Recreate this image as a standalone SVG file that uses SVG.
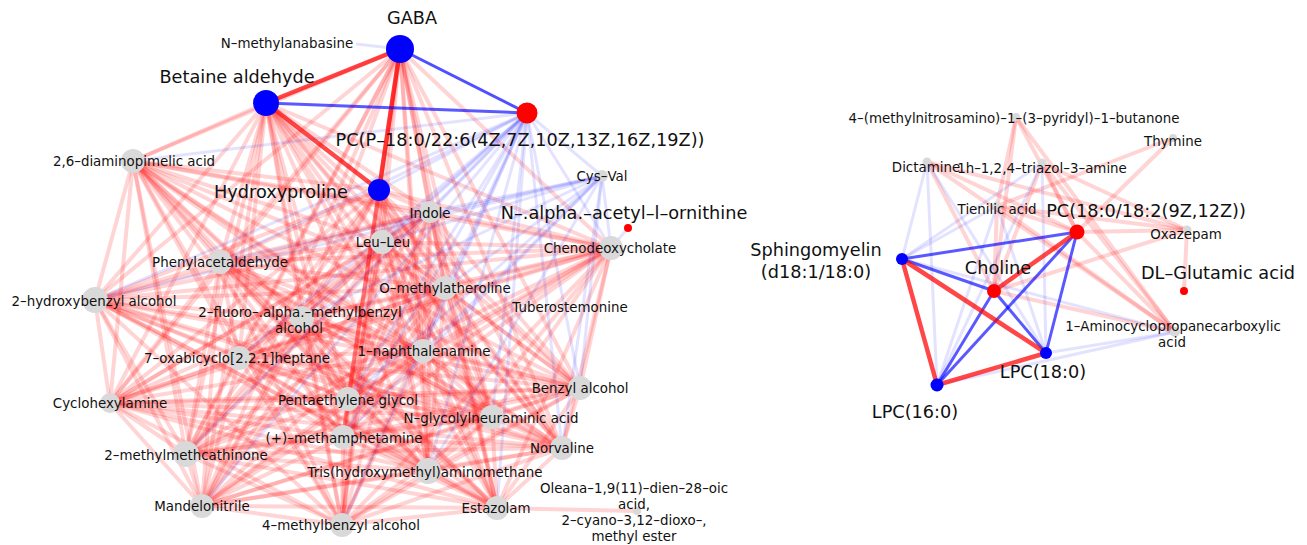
<svg xmlns="http://www.w3.org/2000/svg" width="1307" height="545" viewBox="0 0 1307 545">
<style>
.r{fill:none;stroke:#ff0000;stroke-opacity:.17;stroke-width:4}
.b{fill:none;stroke:#0000ff;stroke-opacity:.11;stroke-width:3}
.R{fill:none;stroke:#ff0000;stroke-opacity:.72;stroke-width:4.5}
.B{fill:none;stroke:#0000ff;stroke-opacity:.65;stroke-width:3}
.ng{fill:#d9d9d9}
.nb{fill:#0000ff}
.nr{fill:#ff0000}
text{font-family:"DejaVu Sans",sans-serif;fill:#111;text-anchor:middle}
.s{font-size:13.4px}
.L{font-size:17.7px}
</style>
<rect width="1307" height="545" fill="#fff"/>
<g id="connectors">
<path class="r" d="M133 161 430 212"/><path class="r" d="M133 161 382 242"/><path class="r" d="M133 161 220 262"/><path class="r" d="M133 161 445 288"/><path class="r" d="M133 161 95 300"/><path class="r" d="M133 161 302 318"/><path class="r" d="M133 161 239 358"/><path class="r" d="M133 161 423 351"/><path class="r" d="M133 161 580 388"/><path class="r" d="M133 161 110 403"/><path class="r" d="M133 161 348 399"/><path class="r" d="M133 161 492 417"/><path class="r" d="M133 161 343 437"/><path class="r" d="M133 161 562 448"/><path class="r" d="M133 161 186 454"/><path class="r" d="M133 161 428 471"/><path class="r" d="M133 161 497 508"/><path class="r" d="M133 161 202 506"/><path class="r" d="M133 161 342 525"/><path class="r" d="M133 161 611 248"/>
<path class="r" d="M430 212 382 242"/><path class="r" d="M430 212 220 262"/><path class="r" d="M430 212 445 288"/><path class="r" d="M430 212 95 300"/><path class="r" d="M430 212 302 318"/><path class="r" d="M430 212 239 358"/><path class="r" d="M430 212 423 351"/><path class="r" d="M430 212 580 388"/><path class="r" d="M430 212 110 403"/><path class="r" d="M430 212 348 399"/><path class="r" d="M430 212 492 417"/><path class="r" d="M430 212 343 437"/><path class="r" d="M430 212 562 448"/><path class="r" d="M430 212 186 454"/><path class="r" d="M430 212 428 471"/><path class="r" d="M430 212 497 508"/><path class="r" d="M430 212 202 506"/><path class="r" d="M430 212 342 525"/><path class="r" d="M430 212 611 248"/>
<path class="r" d="M382 242 220 262"/><path class="r" d="M382 242 445 288"/><path class="r" d="M382 242 95 300"/><path class="r" d="M382 242 302 318"/><path class="r" d="M382 242 239 358"/><path class="r" d="M382 242 423 351"/><path class="r" d="M382 242 580 388"/><path class="r" d="M382 242 110 403"/><path class="r" d="M382 242 348 399"/><path class="r" d="M382 242 492 417"/><path class="r" d="M382 242 343 437"/><path class="r" d="M382 242 562 448"/><path class="r" d="M382 242 186 454"/><path class="r" d="M382 242 428 471"/><path class="r" d="M382 242 497 508"/><path class="r" d="M382 242 202 506"/><path class="r" d="M382 242 342 525"/><path class="r" d="M382 242 611 248"/>
<path class="r" d="M220 262 445 288"/><path class="r" d="M220 262 95 300"/><path class="r" d="M220 262 302 318"/><path class="r" d="M220 262 239 358"/><path class="r" d="M220 262 423 351"/><path class="r" d="M220 262 580 388"/><path class="r" d="M220 262 110 403"/><path class="r" d="M220 262 348 399"/><path class="r" d="M220 262 492 417"/><path class="r" d="M220 262 343 437"/><path class="r" d="M220 262 562 448"/><path class="r" d="M220 262 186 454"/><path class="r" d="M220 262 428 471"/><path class="r" d="M220 262 497 508"/><path class="r" d="M220 262 202 506"/><path class="r" d="M220 262 342 525"/><path class="r" d="M220 262 611 248"/>
<path class="r" d="M445 288 95 300"/><path class="r" d="M445 288 302 318"/><path class="r" d="M445 288 239 358"/><path class="r" d="M445 288 423 351"/><path class="r" d="M445 288 580 388"/><path class="r" d="M445 288 110 403"/><path class="r" d="M445 288 348 399"/><path class="r" d="M445 288 492 417"/><path class="r" d="M445 288 343 437"/><path class="r" d="M445 288 562 448"/><path class="r" d="M445 288 186 454"/><path class="r" d="M445 288 428 471"/><path class="r" d="M445 288 497 508"/><path class="r" d="M445 288 202 506"/><path class="r" d="M445 288 342 525"/><path class="r" d="M445 288 611 248"/>
<path class="r" d="M95 300 302 318"/><path class="r" d="M95 300 239 358"/><path class="r" d="M95 300 423 351"/><path class="r" d="M95 300 580 388"/><path class="r" d="M95 300 110 403"/><path class="r" d="M95 300 348 399"/><path class="r" d="M95 300 492 417"/><path class="r" d="M95 300 343 437"/><path class="r" d="M95 300 562 448"/><path class="r" d="M95 300 186 454"/><path class="r" d="M95 300 428 471"/><path class="r" d="M95 300 497 508"/><path class="r" d="M95 300 202 506"/><path class="r" d="M95 300 342 525"/><path class="r" d="M95 300 611 248"/>
<path class="r" d="M302 318 239 358"/><path class="r" d="M302 318 423 351"/><path class="r" d="M302 318 580 388"/><path class="r" d="M302 318 110 403"/><path class="r" d="M302 318 348 399"/><path class="r" d="M302 318 492 417"/><path class="r" d="M302 318 343 437"/><path class="r" d="M302 318 562 448"/><path class="r" d="M302 318 186 454"/><path class="r" d="M302 318 428 471"/><path class="r" d="M302 318 497 508"/><path class="r" d="M302 318 202 506"/><path class="r" d="M302 318 342 525"/><path class="r" d="M302 318 611 248"/>
<path class="r" d="M239 358 423 351"/><path class="r" d="M239 358 580 388"/><path class="r" d="M239 358 110 403"/><path class="r" d="M239 358 348 399"/><path class="r" d="M239 358 492 417"/><path class="r" d="M239 358 343 437"/><path class="r" d="M239 358 562 448"/><path class="r" d="M239 358 186 454"/><path class="r" d="M239 358 428 471"/><path class="r" d="M239 358 497 508"/><path class="r" d="M239 358 202 506"/><path class="r" d="M239 358 342 525"/><path class="r" d="M239 358 611 248"/>
<path class="r" d="M423 351 580 388"/><path class="r" d="M423 351 110 403"/><path class="r" d="M423 351 348 399"/><path class="r" d="M423 351 492 417"/><path class="r" d="M423 351 343 437"/><path class="r" d="M423 351 562 448"/><path class="r" d="M423 351 186 454"/><path class="r" d="M423 351 428 471"/><path class="r" d="M423 351 497 508"/><path class="r" d="M423 351 202 506"/><path class="r" d="M423 351 342 525"/><path class="r" d="M423 351 611 248"/>
<path class="r" d="M580 388 110 403"/><path class="r" d="M580 388 348 399"/><path class="r" d="M580 388 492 417"/><path class="r" d="M580 388 343 437"/><path class="r" d="M580 388 562 448"/><path class="r" d="M580 388 186 454"/><path class="r" d="M580 388 428 471"/><path class="r" d="M580 388 497 508"/><path class="r" d="M580 388 202 506"/><path class="r" d="M580 388 342 525"/><path class="r" d="M580 388 611 248"/>
<path class="r" d="M110 403 348 399"/><path class="r" d="M110 403 492 417"/><path class="r" d="M110 403 343 437"/><path class="r" d="M110 403 562 448"/><path class="r" d="M110 403 186 454"/><path class="r" d="M110 403 428 471"/><path class="r" d="M110 403 497 508"/><path class="r" d="M110 403 202 506"/><path class="r" d="M110 403 342 525"/><path class="r" d="M110 403 611 248"/>
<path class="r" d="M348 399 492 417"/><path class="r" d="M348 399 343 437"/><path class="r" d="M348 399 562 448"/><path class="r" d="M348 399 186 454"/><path class="r" d="M348 399 428 471"/><path class="r" d="M348 399 497 508"/><path class="r" d="M348 399 202 506"/><path class="r" d="M348 399 342 525"/><path class="r" d="M348 399 611 248"/>
<path class="r" d="M492 417 343 437"/><path class="r" d="M492 417 562 448"/><path class="r" d="M492 417 186 454"/><path class="r" d="M492 417 428 471"/><path class="r" d="M492 417 497 508"/><path class="r" d="M492 417 202 506"/><path class="r" d="M492 417 342 525"/><path class="r" d="M492 417 611 248"/>
<path class="r" d="M343 437 562 448"/><path class="r" d="M343 437 186 454"/><path class="r" d="M343 437 428 471"/><path class="r" d="M343 437 497 508"/><path class="r" d="M343 437 202 506"/><path class="r" d="M343 437 342 525"/><path class="r" d="M343 437 611 248"/>
<path class="r" d="M562 448 186 454"/><path class="r" d="M562 448 428 471"/><path class="r" d="M562 448 497 508"/><path class="r" d="M562 448 202 506"/><path class="r" d="M562 448 342 525"/><path class="r" d="M562 448 611 248"/>
<path class="r" d="M186 454 428 471"/><path class="r" d="M186 454 497 508"/><path class="r" d="M186 454 202 506"/><path class="r" d="M186 454 342 525"/><path class="r" d="M186 454 611 248"/>
<path class="r" d="M428 471 497 508"/><path class="r" d="M428 471 202 506"/><path class="r" d="M428 471 342 525"/><path class="r" d="M428 471 611 248"/>
<path class="r" d="M497 508 202 506"/><path class="r" d="M497 508 342 525"/><path class="r" d="M497 508 611 248"/>
<path class="r" d="M202 506 342 525"/><path class="r" d="M202 506 611 248"/><path class="r" d="M342 525 611 248"/>
<path class="r" d="M497 508 637 511"/>
<path class="r" d="M266 103 133 161"/><path class="r" d="M266 103 430 212"/><path class="r" d="M266 103 382 242"/><path class="r" d="M266 103 220 262"/><path class="r" d="M266 103 445 288"/><path class="r" d="M266 103 95 300"/><path class="r" d="M266 103 302 318"/><path class="r" d="M266 103 239 358"/><path class="r" d="M266 103 423 351"/><path class="r" d="M266 103 580 388"/><path class="r" d="M266 103 110 403"/><path class="r" d="M266 103 348 399"/><path class="r" d="M266 103 492 417"/><path class="r" d="M266 103 343 437"/><path class="r" d="M266 103 562 448"/><path class="r" d="M266 103 186 454"/><path class="r" d="M266 103 428 471"/><path class="r" d="M266 103 497 508"/><path class="r" d="M266 103 202 506"/><path class="r" d="M266 103 342 525"/><path class="r" d="M266 103 611 248"/>
<path class="r" d="M400 49 133 161"/><path class="r" d="M400 49 430 212"/><path class="r" d="M400 49 382 242"/><path class="r" d="M400 49 220 262"/><path class="r" d="M400 49 445 288"/><path class="r" d="M400 49 95 300"/><path class="r" d="M400 49 302 318"/><path class="r" d="M400 49 239 358"/><path class="r" d="M400 49 423 351"/><path class="r" d="M400 49 580 388"/><path class="r" d="M400 49 110 403"/><path class="r" d="M400 49 348 399"/><path class="r" d="M400 49 492 417"/><path class="r" d="M400 49 343 437"/><path class="r" d="M400 49 562 448"/><path class="r" d="M400 49 186 454"/><path class="r" d="M400 49 428 471"/><path class="r" d="M400 49 497 508"/><path class="r" d="M400 49 202 506"/><path class="r" d="M400 49 342 525"/><path class="r" d="M400 49 611 248"/>
<path class="r" d="M379 190 133 161"/><path class="r" d="M379 190 430 212"/><path class="r" d="M379 190 382 242"/><path class="r" d="M379 190 220 262"/><path class="r" d="M379 190 445 288"/><path class="r" d="M379 190 95 300"/><path class="r" d="M379 190 302 318"/><path class="r" d="M379 190 239 358"/><path class="r" d="M379 190 423 351"/><path class="r" d="M379 190 580 388"/><path class="r" d="M379 190 110 403"/><path class="r" d="M379 190 348 399"/><path class="r" d="M379 190 492 417"/><path class="r" d="M379 190 343 437"/><path class="r" d="M379 190 562 448"/><path class="r" d="M379 190 186 454"/><path class="r" d="M379 190 428 471"/><path class="r" d="M379 190 497 508"/><path class="r" d="M379 190 202 506"/><path class="r" d="M379 190 342 525"/><path class="r" d="M379 190 611 248"/>
<path class="b" d="M527 113 430 212"/><path class="b" d="M527 113 382 242"/><path class="b" d="M527 113 602 176"/><path class="b" d="M527 113 611 248"/><path class="b" d="M527 113 580 388"/><path class="b" d="M527 113 562 448"/><path class="b" d="M527 113 428 471"/><path class="b" d="M527 113 186 454"/><path class="b" d="M527 113 202 506"/><path class="b" d="M527 113 220 262"/><path class="b" d="M527 113 95 300"/><path class="b" d="M527 113 445 288"/><path class="b" d="M527 113 423 351"/><path class="b" d="M527 113 492 417"/><path class="b" d="M527 113 343 437"/><path class="b" d="M527 113 302 318"/><path class="b" d="M527 113 239 358"/><path class="b" d="M527 113 348 399"/><path class="b" d="M527 113 133 161"/><path class="b" d="M527 113 497 508"/><path class="b" d="M527 113 342 525"/><path class="b" d="M527 113 379 190"/><path class="b" d="M527 113 400 49"/>
<path class="b" d="M602 176 430 212"/><path class="b" d="M602 176 382 242"/><path class="b" d="M602 176 220 262"/><path class="b" d="M602 176 95 300"/><path class="b" d="M602 176 445 288"/><path class="b" d="M602 176 423 351"/><path class="b" d="M602 176 611 248"/><path class="b" d="M602 176 302 318"/><path class="b" d="M602 176 580 388"/><path class="b" d="M602 176 562 448"/><path class="b" d="M602 176 428 471"/><path class="b" d="M602 176 343 437"/><path class="b" d="M602 176 348 399"/>
<path class="b" d="M628 228 611 248"/><path class="b" d="M356 44 400 49"/>
<path class="R" d="M400 49 266 103"/><path class="R" d="M400 49 379 190"/><path class="R" d="M266 103 379 190"/>
<path class="B" d="M400 49 527 113"/><path class="B" d="M266 103 527 113"/>
<path class="r" d="M1016 117 997 206"/><path class="r" d="M1016 117 1077 232"/><path class="r" d="M1016 117 1175 332"/><path class="r" d="M1016 117 994 291"/>
<path class="r" d="M1173 138 997 206"/><path class="r" d="M1173 138 1077 232"/>
<path class="r" d="M927 162 994 291"/><path class="r" d="M927 162 1077 232"/><path class="r" d="M927 162 1187 230"/><path class="r" d="M927 162 1175 332"/>
<path class="b" d="M927 162 902 259"/><path class="b" d="M927 162 937 385"/><path class="b" d="M927 162 1046 353"/>
<path class="r" d="M1042 163 994 291"/><path class="r" d="M1042 163 1077 232"/><path class="r" d="M1042 163 1187 230"/><path class="r" d="M1042 163 1175 332"/>
<path class="b" d="M1042 163 902 259"/><path class="b" d="M1042 163 937 385"/><path class="b" d="M1042 163 1046 353"/>
<path class="r" d="M997 206 994 291"/><path class="r" d="M997 206 1077 232"/><path class="r" d="M997 206 1187 230"/><path class="r" d="M997 206 1175 332"/>
<path class="b" d="M997 206 902 259"/><path class="b" d="M997 206 937 385"/><path class="b" d="M997 206 1046 353"/>
<path class="r" d="M1187 230 1184 291"/><path class="r" d="M1187 230 994 291"/><path class="r" d="M1187 230 1077 232"/>
<path class="b" d="M1175 332 1046 353"/><path class="b" d="M1175 332 937 385"/><path class="b" d="M1175 332 902 259"/>
<path class="r" d="M1175 332 994 291"/><path class="r" d="M1175 332 1077 232"/>
<path class="B" d="M902 259 1077 232"/><path class="B" d="M902 259 994 291"/><path class="B" d="M994 291 937 385"/><path class="B" d="M994 291 1046 353"/><path class="B" d="M1077 232 937 385"/><path class="B" d="M1077 232 1046 353"/>
<path class="R" d="M902 259 937 385"/><path class="R" d="M902 259 1046 353"/><path class="R" d="M994 291 1077 232"/><path class="R" d="M937 385 1046 353"/>
</g>
<g id="n-nmethylanabasine"><text class="s" x="287" y="48">N–methylanabasine</text></g>
<g id="n-gaba"><circle class="nb" cx="400" cy="49" r="14"/><text class="L" x="412" y="24">GABA</text></g>
<g id="n-betaine"><circle class="nb" cx="266" cy="103" r="13"/><text class="L" x="237" y="83">Betaine aldehyde</text></g>
<g id="n-pcp"><circle class="nr" cx="527" cy="113" r="10.5"/><text class="L" x="520" y="146">PC(P–18:0/22:6(4Z,7Z,10Z,13Z,16Z,19Z))</text></g>
<g id="n-hydroxyproline"><circle class="nb" cx="379" cy="190" r="11"/><text class="L" x="281" y="198">Hydroxyproline</text></g>
<g id="n-diaminopimelic"><circle class="ng" cx="133" cy="161" r="12"/><text class="s" x="134" y="166">2,6–diaminopimelic acid</text></g>
<g id="n-indole"><circle class="ng" cx="430" cy="212" r="11"/><text class="s" x="430" y="218">Indole</text></g>
<g id="n-leuleu"><circle class="ng" cx="382" cy="242" r="12"/><text class="s" x="383" y="247">Leu–Leu</text></g>
<g id="n-cysval"><circle class="ng" cx="602" cy="176" r="6"/><text class="s" x="602" y="181">Cys–Val</text></g>
<g id="n-acetylornithine"><circle class="nr" cx="628" cy="228" r="4"/><text class="L" x="624" y="219">N–.alpha.–acetyl–l–ornithine</text></g>
<g id="n-chenodeoxycholate"><circle class="ng" cx="611" cy="248" r="12"/><text class="s" x="610" y="253">Chenodeoxycholate</text></g>
<g id="n-phenylacetaldehyde"><circle class="ng" cx="220" cy="262" r="12"/><text class="s" x="220" y="267">Phenylacetaldehyde</text></g>
<g id="n-omethylatheroline"><circle class="ng" cx="445" cy="288" r="12"/><text class="s" x="445" y="293">O–methylatheroline</text></g>
<g id="n-hydroxybenzyl"><circle class="ng" cx="95" cy="300" r="13"/><text class="s" x="94" y="306">2–hydroxybenzyl alcohol</text></g>
<g id="n-fluoro"><circle class="ng" cx="302" cy="318" r="12"/><text class="s" x="300" y="317">2–fluoro–.alpha.–methylbenzyl</text><text class="s" x="299" y="333">alcohol</text></g>
<g id="n-tuberostemonine"><text class="s" x="570" y="312">Tuberostemonine</text></g>
<g id="n-oxabicyclo"><circle class="ng" cx="239" cy="358" r="12"/><text class="s" x="237" y="363">7–oxabicyclo[2.2.1]heptane</text></g>
<g id="n-naphthalenamine"><circle class="ng" cx="423" cy="351" r="12"/><text class="s" x="424" y="356">1–naphthalenamine</text></g>
<g id="n-benzylalcohol"><circle class="ng" cx="580" cy="388" r="12"/><text class="s" x="580" y="393">Benzyl alcohol</text></g>
<g id="n-cyclohexylamine"><circle class="ng" cx="110" cy="403" r="10"/><text class="s" x="110" y="408">Cyclohexylamine</text></g>
<g id="n-pentaethylene"><circle class="ng" cx="348" cy="399" r="12"/><text class="s" x="348" y="405">Pentaethylene glycol</text></g>
<g id="n-glycolylneuraminic"><circle class="ng" cx="492" cy="417" r="12"/><text class="s" x="491" y="423">N–glycolylneuraminic acid</text></g>
<g id="n-methamphetamine"><circle class="ng" cx="343" cy="437" r="12"/><text class="s" x="344" y="443">(+)–methamphetamine</text></g>
<g id="n-norvaline"><circle class="ng" cx="562" cy="448" r="12"/><text class="s" x="562" y="453">Norvaline</text></g>
<g id="n-methylmethcathinone"><circle class="ng" cx="186" cy="454" r="13"/><text class="s" x="186" y="460">2–methylmethcathinone</text></g>
<g id="n-tris"><circle class="ng" cx="428" cy="471" r="13"/><text class="s" x="425" y="477">Tris(hydroxymethyl)aminomethane</text></g>
<g id="n-oleana"><circle class="ng" cx="637" cy="511" r="4"/><text class="s" x="634" y="493">Oleana–1,9(11)–dien–28–oic</text><text class="s" x="634" y="509">acid,</text><text class="s" x="634" y="525">2–cyano–3,12–dioxo–,</text><text class="s" x="634" y="541">methyl ester</text></g>
<g id="n-estazolam"><circle class="ng" cx="497" cy="508" r="12"/><text class="s" x="496" y="513">Estazolam</text></g>
<g id="n-mandelonitrile"><circle class="ng" cx="202" cy="506" r="12"/><text class="s" x="202" y="511">Mandelonitrile</text></g>
<g id="n-methylbenzyl"><circle class="ng" cx="342" cy="525" r="12"/><text class="s" x="341" y="530">4–methylbenzyl alcohol</text></g>
<g id="n-nnk"><circle class="ng" cx="1016" cy="117" r="4"/><text class="s" x="1014" y="123">4–(methylnitrosamino)–1–(3–pyridyl)–1–butanone</text></g>
<g id="n-thymine"><circle class="ng" cx="1173" cy="138" r="4"/><text class="s" x="1173" y="146">Thymine</text></g>
<g id="n-dictamine"><circle class="ng" cx="927" cy="162" r="4.5"/><text class="s" x="926" y="172">Dictamine</text></g>
<g id="n-triazol"><circle class="ng" cx="1042" cy="163" r="4.5"/><text class="s" x="1042" y="173">1h–1,2,4–triazol–3–amine</text></g>
<g id="n-tienilic"><circle class="ng" cx="997" cy="206" r="4.5"/><text class="s" x="997" y="214">Tienilic acid</text></g>
<g id="n-pc18"><circle class="nr" cx="1077" cy="232" r="7.5"/><text class="L" x="1146" y="217">PC(18:0/18:2(9Z,12Z))</text></g>
<g id="n-oxazepam"><circle class="ng" cx="1187" cy="230" r="4.5"/><text class="s" x="1186" y="239">Oxazepam</text></g>
<g id="n-sphingomyelin"><circle class="nb" cx="902" cy="259" r="6"/><text class="L" x="816" y="256">Sphingomyelin</text><text class="L" x="816" y="278">(d18:1/18:0)</text></g>
<g id="n-choline"><circle class="nr" cx="994" cy="291" r="7"/><text class="L" x="998" y="274">Choline</text></g>
<g id="n-glutamic"><circle class="nr" cx="1184" cy="291" r="4"/><text class="L" x="1218" y="279">DL–Glutamic acid</text></g>
<g id="n-acc"><circle class="ng" cx="1175" cy="332" r="5"/><text class="s" x="1173" y="331">1–Aminocyclopropanecarboxylic</text><text class="s" x="1172" y="347">acid</text></g>
<g id="n-lpc18"><circle class="nb" cx="1046" cy="353" r="6"/><text class="L" x="1043" y="378">LPC(18:0)</text></g>
<g id="n-lpc16"><circle class="nb" cx="937" cy="385" r="6.5"/><text class="L" x="915" y="418">LPC(16:0)</text></g>
</svg>
